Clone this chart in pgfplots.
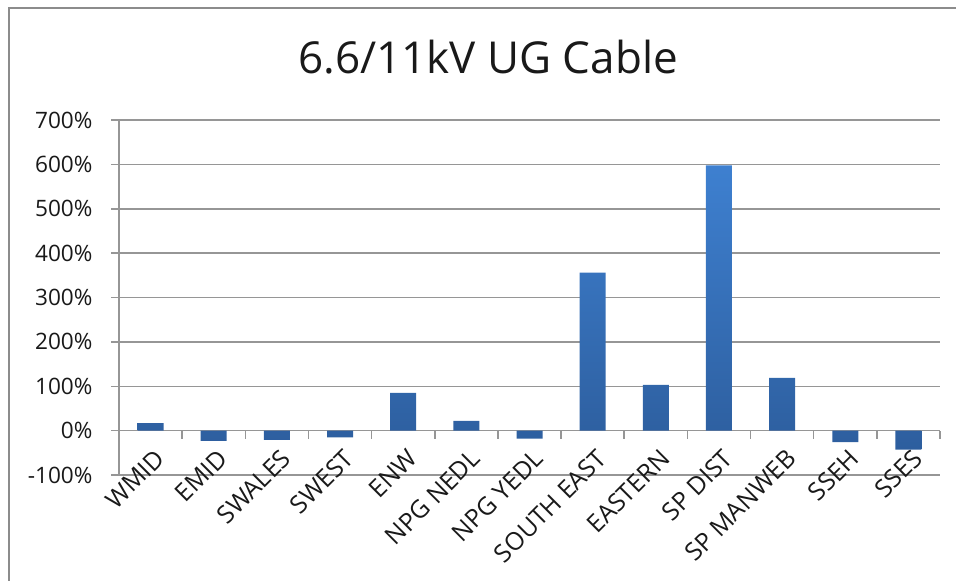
\documentclass[border=0pt]{standalone}
\usepackage{fontspec}
\setmainfont{Open Sans}
\usepackage{pgfplots}
\pgfplotsset{compat=1.18}
\definecolor{gridgray}{RGB}{150,150,150}
\definecolor{framegray}{RGB}{140,140,140}
\definecolor{bartop}{RGB}{62,128,208}
\definecolor{barbot}{RGB}{45,94,158}
\begin{document}
\begin{tikzpicture}[x=1pt,y=1pt]
\begin{axis}[
  at={(119pt,-475pt)}, anchor=south west,
  scale only axis, width=821pt, height=355pt,
  xmin=-0.5, xmax=12.5, ymin=-100, ymax=700,
  axis x line*=middle, axis y line*=left,
  hide obscured x ticks=false, hide obscured y ticks=false,
  axis line style={gridgray, line width=1.5pt},
  tick style={gridgray, line width=1.5pt},
  major tick length=8pt, tick align=outside,
  ytick={-100,0,100,200,300,400,500,600,700},
  yticklabel={\pgfmathprintnumber[assume math mode=true]{\tick}\%},
  yticklabel style={font=\fontsize{22.6}{25}\selectfont, text=black!90, xshift=-15pt},
  ymajorgrids, grid style={gridgray, line width=1.5pt},
  xtick={-0.5,0.5,...,12.5}, xticklabels={},
  extra x ticks={0,1,2,3,4,5,6,7,8,9,10,11,12},
  extra x tick labels={WMID,EMID,SWALES,SWEST,ENW,NPG NEDL,NPG YEDL,SOUTH EAST,EASTERN,SP DIST,SP MANWEB,SSEH,SSES},
  extra x tick style={tick style={draw=none}, grid=none,
    xticklabel style={rotate=45, anchor=north east, font=\fontsize{24.8}{25}\selectfont, text=black!90, xshift=-1pt, yshift=-5pt}},
]
\addplot[ybar, bar width=26pt, draw=none, top color=bartop, bottom color=barbot]
  coordinates {(0,17) (1,-23) (2,-21) (3,-15) (4,85) (5,22) (6,-18) (7,356) (8,103) (9,598) (10,119) (11,-26) (12,-43)};
\end{axis}
\node[font=\fontsize{44}{50}\selectfont, text=black!90, anchor=base] at (488,-73) {6.6/11kV UG Cable};
\draw[framegray, line width=1.5pt] (9,-8) rectangle (1000,-700);
\pgfresetboundingbox
\useasboundingbox (0,0) rectangle (956,-581);
\end{tikzpicture}
\end{document}
